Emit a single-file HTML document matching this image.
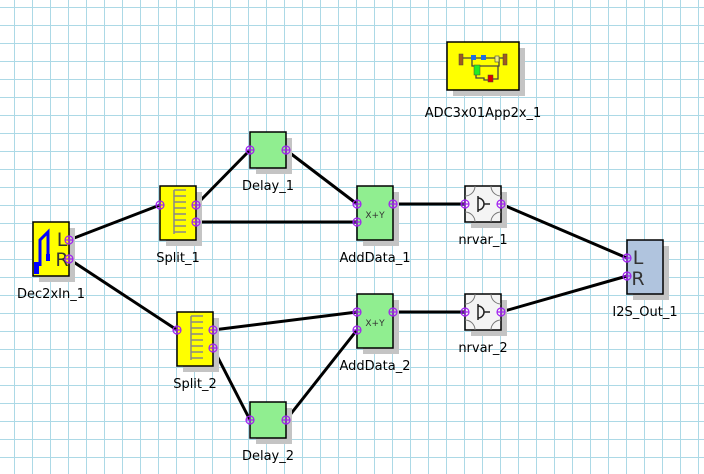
<!DOCTYPE html>
<html><head><style>
body{margin:0;background:#fff;}
svg{display:block;font-family:"DejaVu Sans","Liberation Sans",sans-serif;}
text{font-size:13px;fill:#000;text-anchor:middle;}
</style></head><body>
<svg width="704" height="474" viewBox="0 0 704 474" xmlns="http://www.w3.org/2000/svg">
<defs>
<pattern id="g" x="14" y="7" width="18" height="18" patternUnits="userSpaceOnUse">
<path d="M0.5 0V18M0 0.5H18" stroke="#acd9e6" stroke-width="1" fill="none"/>
</pattern>
</defs>
<rect width="704" height="474" fill="url(#g)"/>

<g stroke="#000" stroke-width="3" fill="none">
<line x1="69" y1="240" x2="160" y2="205"/>
<line x1="69" y1="259" x2="177" y2="330"/>
<line x1="196" y1="205" x2="250" y2="150"/>
<line x1="196" y1="222" x2="357" y2="222"/>
<line x1="286" y1="150" x2="357" y2="204"/>
<line x1="393" y1="204" x2="465" y2="204"/>
<line x1="501" y1="204" x2="627" y2="258"/>
<line x1="213" y1="330" x2="357" y2="312"/>
<line x1="213" y1="348" x2="250" y2="420"/>
<line x1="286" y1="420" x2="357" y2="330"/>
<line x1="393" y1="312" x2="465" y2="312"/>
<line x1="501" y1="312" x2="627" y2="276"/>
</g>

<g fill="#c4c4c4">
<rect x="39" y="228" width="36" height="54"/>
<rect x="166" y="192" width="36" height="54"/>
<rect x="183" y="318" width="36" height="54"/>
<rect x="256" y="138" width="36" height="36"/>
<rect x="256" y="408" width="36" height="36"/>
<rect x="363" y="192" width="36" height="54"/>
<rect x="363" y="300" width="36" height="54"/>
<rect x="471" y="192" width="36" height="36"/>
<rect x="471" y="300" width="36" height="36"/>
<rect x="633" y="246" width="36" height="54"/>
<rect x="453" y="48" width="72" height="48"/>
</g>

<g stroke="#000" stroke-width="1.5">
<rect x="33" y="222" width="36" height="54" fill="#ffff00"/>
<rect x="160" y="186" width="36" height="54" fill="#ffff00"/>
<rect x="177" y="312" width="36" height="54" fill="#ffff00"/>
<rect x="250" y="132" width="36" height="36" fill="#90ee90"/>
<rect x="250" y="402" width="36" height="36" fill="#90ee90"/>
<rect x="357" y="186" width="36" height="54" fill="#90ee90"/>
<rect x="357" y="294" width="36" height="54" fill="#90ee90"/>
<rect x="465" y="186" width="36" height="36" fill="#f4f4f4"/>
<rect x="465" y="294" width="36" height="36" fill="#f4f4f4"/>
<rect x="627" y="240" width="36" height="54" fill="#b0c4de"/>
<rect x="447" y="42" width="72" height="48" fill="#ffff00"/>
</g>

<!-- Dec2xIn icon -->
<path d="M40 266V240L48 232V257" stroke="#0000ff" stroke-width="3" fill="none"/>
<rect x="34" y="262" width="5" height="12" fill="#0000ff"/>
<rect x="46" y="254" width="4" height="7" fill="#0000ff"/>
<text x="62" y="246" style="font-size:19px;fill:#333">L</text>
<text x="62" y="266" style="font-size:19px;fill:#333">R</text>

<g stroke="#888" stroke-width="1.5" fill="none">
<path d="M174 190V234M174 190H186M174 196H186M174 202H186M174 208H186M174 214H186M174 220H186M174 226H186M174 232H186"/>
<path d="M191 316V360M191 316H203M191 322H203M191 328H203M191 334H203M191 340H203M191 346H203M191 352H203M191 358H203"/>
</g>

<text x="375" y="218" style="font-size:9px;fill:#333">X+Y</text>
<text x="375" y="326" style="font-size:9px;fill:#333">X+Y</text>

<g stroke="#777" stroke-width="1" fill="none">
<path d="M465 196A10 10 0 0 0 475 186M491 186A10 10 0 0 0 501 196M465 212A10 10 0 0 1 475 222M501 212A10 10 0 0 0 491 222"/>
<path d="M465 304A10 10 0 0 0 475 294M491 294A10 10 0 0 0 501 304M465 320A10 10 0 0 1 475 330M501 320A10 10 0 0 0 491 330"/>
</g>
<g stroke="#222" stroke-width="1.5" fill="none">
<path d="M478 196V212M478 198A6 6 0 0 1 478 210M484 204H490"/>
<path d="M478 304V320M478 306A6 6 0 0 1 478 318M484 312H490"/>
</g>

<text x="638" y="264" style="font-size:19px;fill:#333">L</text>
<text x="638" y="285" style="font-size:19px;fill:#333">R</text>

<!-- ADC icon -->
<g stroke="#444" stroke-width="1.3" fill="none">
<path d="M462 58H503M472 58V66H499V59M476 66V78H484V80H490M491 79H498V66"/>
</g>
<rect x="459" y="54" width="4" height="11" fill="#a05a1e" stroke="#444" stroke-width="0.5"/>
<rect x="503" y="54" width="4" height="11" fill="#a05a1e" stroke="#444" stroke-width="0.5"/>
<rect x="471" y="55" width="5" height="5" fill="#1e6fe0"/>
<rect x="481" y="55" width="5" height="5" fill="#1e6fe0"/>
<rect x="474" y="65" width="6" height="10" fill="#22ee22" stroke="#444" stroke-width="0.5"/>
<rect x="488" y="75" width="5" height="7" fill="#dd0000" stroke="#444" stroke-width="0.5"/>
<rect x="495" y="56" width="4" height="6" fill="#eeee88" stroke="#444" stroke-width="0.6"/>

<g stroke="#a020f0" stroke-width="1.2" fill="none">
<circle cx="69" cy="240" r="4"/><path d="M65 240H73M69 236V244"/>
<circle cx="69" cy="259" r="4"/><path d="M65 259H73M69 255V263"/>
<circle cx="160" cy="205" r="4"/><path d="M156 205H164M160 201V209"/>
<circle cx="196" cy="205" r="4"/><path d="M192 205H200M196 201V209"/>
<circle cx="196" cy="222" r="4"/><path d="M192 222H200M196 218V226"/>
<circle cx="177" cy="330" r="4"/><path d="M173 330H181M177 326V334"/>
<circle cx="213" cy="330" r="4"/><path d="M209 330H217M213 326V334"/>
<circle cx="213" cy="348" r="4"/><path d="M209 348H217M213 344V352"/>
<circle cx="250" cy="150" r="4"/><path d="M246 150H254M250 146V154"/>
<circle cx="286" cy="150" r="4"/><path d="M282 150H290M286 146V154"/>
<circle cx="250" cy="420" r="4"/><path d="M246 420H254M250 416V424"/>
<circle cx="286" cy="420" r="4"/><path d="M282 420H290M286 416V424"/>
<circle cx="357" cy="204" r="4"/><path d="M353 204H361M357 200V208"/>
<circle cx="357" cy="222" r="4"/><path d="M353 222H361M357 218V226"/>
<circle cx="393" cy="204" r="4"/><path d="M389 204H397M393 200V208"/>
<circle cx="357" cy="312" r="4"/><path d="M353 312H361M357 308V316"/>
<circle cx="357" cy="330" r="4"/><path d="M353 330H361M357 326V334"/>
<circle cx="393" cy="312" r="4"/><path d="M389 312H397M393 308V316"/>
<circle cx="465" cy="204" r="4"/><path d="M461 204H469M465 200V208"/>
<circle cx="501" cy="204" r="4"/><path d="M497 204H505M501 200V208"/>
<circle cx="465" cy="312" r="4"/><path d="M461 312H469M465 308V316"/>
<circle cx="501" cy="312" r="4"/><path d="M497 312H505M501 308V316"/>
<circle cx="627" cy="258" r="4"/><path d="M623 258H631M627 254V262"/>
<circle cx="627" cy="276" r="4"/><path d="M623 276H631M627 272V280"/>
</g>

<text x="51" y="298">Dec2xIn_1</text>
<text x="178" y="262">Split_1</text>
<text x="195" y="388">Split_2</text>
<text x="268" y="190">Delay_1</text>
<text x="268" y="460">Delay_2</text>
<text x="375" y="262">AddData_1</text>
<text x="375" y="370">AddData_2</text>
<text x="483" y="244">nrvar_1</text>
<text x="483" y="352">nrvar_2</text>
<text x="645" y="316">I2S_Out_1</text>
<text x="483" y="117">ADC3x01App2x_1</text>
</svg>
</body></html>
